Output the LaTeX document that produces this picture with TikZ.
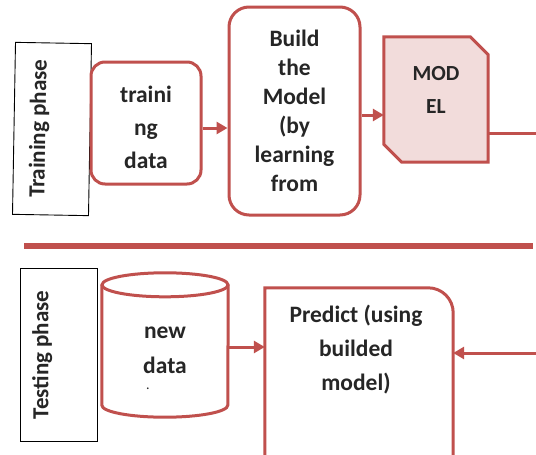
\documentclass[tikz,border=0pt]{standalone}
\usepackage{fontspec}
\setmainfont{Carlito}
\usetikzlibrary{arrows.meta}
\definecolor{ored}{HTML}{C0504D}
\definecolor{opink}{HTML}{F2DCDB}
\definecolor{otext}{HTML}{262626}
\begin{document}
\begin{tikzpicture}[x=1pt,y=-1pt,
  txt/.style={font=\fontsize{23.5}{#1}\selectfont\bfseries, text=otext, align=center, inner sep=0pt},
  txt/.default=29,
  redbox/.style={draw=ored, line width=3pt},
  phasebox/.style={draw=black, line width=0.9pt, inner sep=0pt, font=\fontsize{23}{23}\selectfont\bfseries, text=otext, text height=16pt},
  conn/.style={draw=ored, line width=3pt, -{Triangle[length=11pt,width=12pt]}},
  plainline/.style={draw=ored, line width=3pt},
]
\useasboundingbox[fill=white] (0,0) rectangle (536,455);

% phase labels
\node[phasebox, rotate=89, text depth=29pt, minimum width=172pt, minimum height=76pt] (trbox) at (52,129) {Training phase};
\node[phasebox, rotate=90, text depth=36pt, minimum width=173pt, minimum height=77pt] (tebox) at (58.5,355) {Testing phase};

% training row
\node[redbox, rounded corners=14pt, minimum width=110pt, minimum height=122pt, txt=33] (td) at (146,123) {\rule{0pt}{26pt}traini\\ng\\data};
\node[redbox, rounded corners=20pt, minimum width=131pt, minimum height=208pt, txt=29] (build) at (294.5,111) {Build\\the\\Model\\(by\\learning\\from};
\node[minimum width=104pt, minimum height=125pt, inner sep=0pt] (model) at (436,99.5) {};
\filldraw[draw=ored, fill=opink, line width=3pt]
  (model.north west) -- ([xshift=-18pt]model.north east) -- ([yshift=-18pt]model.north east)
  -- (model.south east) -- ([xshift=18pt]model.south west) -- ([yshift=18pt]model.south west) -- cycle;
\node[txt=33, font=\fontsize{21.5}{33}\selectfont\bfseries] (modeltxt) at (436,89.5) {MOD\\EL};

\draw[conn] (td.east |- 0,128) -- (build.west |- 0,128);
\draw[conn] (build.east |- 0,115) -- (model.west |- 0,115);
\coordinate (r1) at (536,133);
\draw[plainline] (model.east |- r1) -- (r1);

% separator
\coordinate (s1) at (24,246);
\coordinate (s2) at (533,246);
\draw[draw=ored, line width=6.5pt] (s1) -- (s2);

% testing row
\node[minimum width=126pt, minimum height=144pt, inner sep=0pt] (nd) at (165,345) {};
\draw[redbox] ([yshift=-12pt]nd.north) ellipse [x radius=63pt, y radius=12pt];
\draw[redbox] ([yshift=-12pt]nd.north west) -- ([yshift=12pt]nd.south west)
  arc[start angle=180, end angle=360, x radius=63pt, y radius=12pt] -- ([yshift=-12pt]nd.north east);
\node[txt=35] (ndtxt) at (165,350) {new\\data};
\node[txt, font=\fontsize{14}{14}\selectfont] (nddot) at (148,389) {.};

\node[minimum width=188pt, minimum height=182pt, inner sep=0pt] (pred) at (359,379) {};
\draw[redbox, line join=miter] (pred.south west) -- (pred.north west) -- ([xshift=-25pt]pred.north east)
  arc[start angle=90, end angle=0, radius=25pt] -- (pred.south east);
\node[txt=34] (predtxt) at (356,350) {Predict (using\\builded\\model)};

\draw[conn] (nd.east |- 0,347) -- (pred.west |- 0,347);
\coordinate (r2) at (536,353);
\draw[conn] (r2) -- (pred.east |- r2);
\end{tikzpicture}
\end{document}
